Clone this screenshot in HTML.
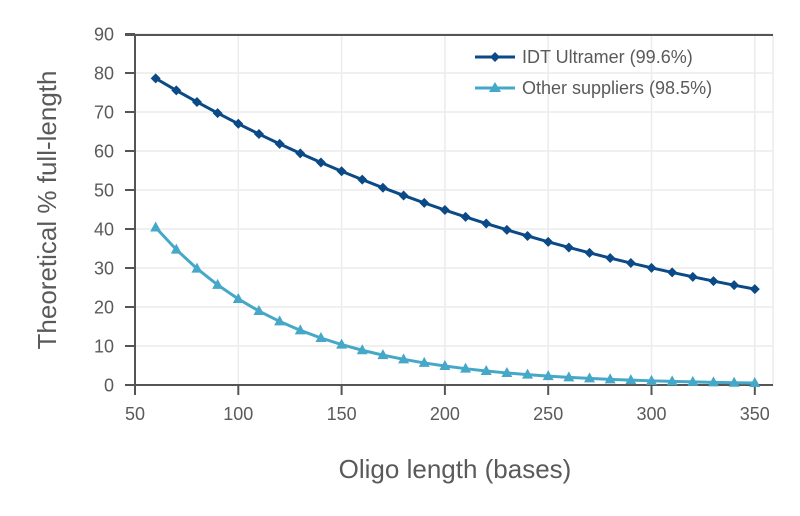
<!DOCTYPE html>
<html><head><style>body{margin:0;background:#fff}svg{display:block;font-family:"Liberation Sans",sans-serif}</style></head>
<body>
<svg id="s" width="800" height="516" xmlns="http://www.w3.org/2000/svg">
<rect x="462" y="40" width="306" height="66" fill="#fff"/>
<g id="g"></g>
<text x="455" y="478" font-size="26" fill="#5a5a5a" text-anchor="middle">Oligo length (bases)</text>
<text transform="translate(56,210) rotate(-90)" font-size="26" fill="#5a5a5a" text-anchor="middle">Theoretical % full-length</text>
<line x1="475" y1="57" x2="515" y2="57" stroke="#0b4a86" stroke-width="3"/>
<path d="M495 52 L500 57 L495 62 L490 57Z" fill="#0b4a86"/>
<text x="522" y="63" font-size="18" fill="#5a5a5a">IDT Ultramer (99.6%)</text>
<line x1="475" y1="88" x2="515" y2="88" stroke="#45a8c8" stroke-width="3"/>
<path d="M495 82 L501 92 L489 92Z" fill="#45a8c8"/>
<text x="522" y="94" font-size="18" fill="#5a5a5a">Other suppliers (98.5%)</text>
</svg>
<script>
var g=document.getElementById('g'),h='';
function X(v){return 135+(v-50)*2.066}function Y(v){return 385-v*3.9}
for(var i=0;i<=9;i++){var y=Y(i*10);
if(i>0)h+='<line x1="135" y1="'+y+'" x2="773" y2="'+y+'" stroke="#ececec" stroke-width="1.5"/>';
h+='<line x1="125" y1="'+y+'" x2="135" y2="'+y+'" stroke="#555" stroke-width="2"/>';
h+='<text x="114" y="'+(y+6.5)+'" font-size="18" fill="#5a5a5a" text-anchor="end">'+(i*10)+'</text>';}
for(var v=50;v<=350;v+=50){var x=X(v);
if(v>50)h+='<line x1="'+x+'" y1="35" x2="'+x+'" y2="385" stroke="#ececec" stroke-width="1.5"/>';
h+='<line x1="'+x+'" y1="385" x2="'+x+'" y2="395" stroke="#555" stroke-width="2"/>';
h+='<text x="'+x+'" y="420" font-size="18" fill="#5a5a5a" text-anchor="middle">'+v+'</text>';}
h+='<line x1="773" y1="35" x2="773" y2="385" stroke="#ececec" stroke-width="1.5"/>';
h+='<line x1="125" y1="35" x2="773" y2="35" stroke="#555" stroke-width="2"/>';
h+='<line x1="135" y1="35" x2="135" y2="385" stroke="#555" stroke-width="2"/>';
h+='<line x1="125" y1="385" x2="773" y2="385" stroke="#555" stroke-width="2"/>';
var p1='',p2='',m='';
for(var n=60;n<=350;n+=10){var x=X(n),a=Y(100*Math.pow(.996,n)),b=Y(100*Math.pow(.985,n));
p1+=(n==60?'M':'L')+x+' '+a;p2+=(n==60?'M':'L')+x+' '+b;
m+='<path d="M'+x+' '+(a-5)+'L'+(x+5)+' '+a+'L'+x+' '+(a+5)+'L'+(x-5)+' '+a+'Z" fill="#0b4a86"/>';
m+='<path d="M'+x+' '+(b-6)+'L'+(x+5.5)+' '+(b+4)+'L'+(x-5.5)+' '+(b+4)+'Z" fill="#45a8c8"/>';}
h+='<path d="'+p1+'" fill="none" stroke="#0b4a86" stroke-width="3"/><path d="'+p2+'" fill="none" stroke="#45a8c8" stroke-width="3"/>'+m;
g.innerHTML=h;
</script>
</body></html>
